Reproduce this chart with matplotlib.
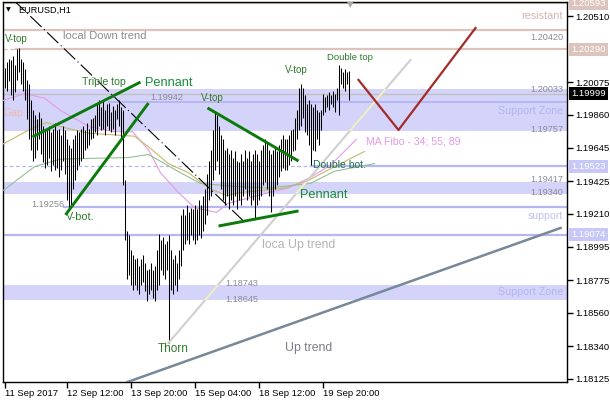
import matplotlib
matplotlib.use('Agg')
import matplotlib.pyplot as plt

plt.rcParams['font.family'] = ['Liberation Sans', 'DejaVu Sans']

# hourly bars, EURUSD H1 (high / low)
high = [1.2017, 1.2021, 1.2023, 1.2022, 1.2025, 1.2019, 1.2029, 1.2030, 1.2023, 1.2021,
        1.2016, 1.2009, 1.2006, 1.1996, 1.1989, 1.1986, 1.1983, 1.1988, 1.1984, 1.1979,
        1.1977, 1.1976, 1.1979, 1.1975, 1.1977, 1.1981, 1.1976, 1.1977, 1.1973, 1.1979,
        1.1976, 1.1970, 1.1966, 1.1964, 1.1970, 1.1973, 1.1976, 1.1975, 1.1977, 1.1979,
        1.1976, 1.1981, 1.1977, 1.1983, 1.1984, 1.1986, 1.1994, 1.1996, 1.1991, 1.1995,
        1.1989, 1.1993, 1.1994, 1.1988, 1.1992, 1.1989, 1.1993, 1.1996, 1.1991, 1.1989,
        1.1943, 1.1910, 1.1907, 1.1897, 1.1894, 1.1891, 1.1892, 1.1887, 1.1891, 1.1894,
        1.1889, 1.1884, 1.1885, 1.1889, 1.1884, 1.1887, 1.1897, 1.1908, 1.1904, 1.1906,
        1.1901, 1.1903, 1.1907, 1.1897, 1.1891, 1.1894, 1.1889, 1.1897, 1.1920, 1.1924,
        1.1920, 1.1927, 1.1922, 1.1925, 1.1924, 1.1927, 1.1924, 1.1930, 1.1927, 1.1933,
        1.1937, 1.1947, 1.1956, 1.1963, 1.1976, 1.1988, 1.1986, 1.1979, 1.1973, 1.1970,
        1.1963, 1.1964, 1.1960, 1.1963, 1.1958, 1.1962, 1.1956, 1.1955, 1.1960, 1.1956,
        1.1963, 1.1958, 1.1962, 1.1956, 1.1960, 1.1963, 1.1960, 1.1956, 1.1963, 1.1966,
        1.1970, 1.1968, 1.1963, 1.1960, 1.1963, 1.1964, 1.1962, 1.1966, 1.1970, 1.1973,
        1.1970, 1.1970, 1.1973, 1.1976, 1.1977, 1.1984, 1.1989, 1.2004, 1.2006, 1.2004,
        1.1999, 1.1993, 1.1996, 1.1993, 1.1991, 1.1993, 1.1989, 1.1988, 1.1989, 1.2000,
        1.1998, 1.1999, 1.2001, 1.1999, 1.2002, 1.2000, 1.2004, 1.2019, 1.2017, 1.2014,
        1.2016, 1.2014, 1.2015]
low = [1.2004, 1.2002, 1.2008, 1.1999, 1.1996, 1.2001, 1.2009, 1.2014, 1.2006, 1.2002,
       1.1996, 1.1983, 1.1970, 1.1963, 1.1956, 1.1958, 1.1963, 1.1970, 1.1960, 1.1955,
       1.1951, 1.1953, 1.1958, 1.1949, 1.1953, 1.1950, 1.1951, 1.1945, 1.1950, 1.1956,
       1.1947, 1.1930, 1.1925, 1.1927, 1.1937, 1.1943, 1.1950, 1.1953, 1.1956, 1.1958,
       1.1963, 1.1964, 1.1966, 1.1970, 1.1971, 1.1975, 1.1973, 1.1979, 1.1976, 1.1977,
       1.1973, 1.1979, 1.1976, 1.1975, 1.1977, 1.1973, 1.1983, 1.1979, 1.1970, 1.1940,
       1.1904, 1.1878, 1.1881, 1.1874, 1.1871, 1.1874, 1.1871, 1.1868, 1.1874, 1.1876,
       1.1870, 1.1864, 1.1868, 1.1871, 1.1866, 1.1864, 1.1871, 1.1874, 1.1884, 1.1881,
       1.1878, 1.1884, 1.1836, 1.1871, 1.1868, 1.1874, 1.1870, 1.1878, 1.1887, 1.1897,
       1.1901, 1.1904, 1.1901, 1.1907, 1.1904, 1.1901, 1.1904, 1.1907, 1.1905, 1.1910,
       1.1914, 1.1920, 1.1930, 1.1933, 1.1943, 1.1950, 1.1956, 1.1947, 1.1937, 1.1930,
       1.1927, 1.1933, 1.1924, 1.1930, 1.1927, 1.1933, 1.1924, 1.1930, 1.1927, 1.1933,
       1.1937, 1.1930, 1.1933, 1.1927, 1.1930, 1.1918, 1.1927, 1.1930, 1.1933, 1.1940,
       1.1942, 1.1937, 1.1933, 1.1922, 1.1933, 1.1937, 1.1940, 1.1945, 1.1949, 1.1951,
       1.1950, 1.1950, 1.1953, 1.1956, 1.1962, 1.1963, 1.1970, 1.1976, 1.1979, 1.1984,
       1.1975, 1.1973, 1.1966, 1.1953, 1.1963, 1.1962, 1.1970, 1.1966, 1.1976, 1.1986,
       1.1988, 1.1991, 1.1989, 1.1993, 1.1991, 1.1988, 1.1996, 1.1986, 1.2006, 1.2004,
       1.2002, 1.2006, 1.1996]
last_price = 1.19999

# moving averages 34 / 55 / 89 (bar index, price)
ma34_x = [-2, 10, 20, 28, 36, 43, 55, 64, 72, 78, 87, 95, 106, 112, 121, 132, 142, 153, 163, 176]
ma34_y = [1.1995, 1.2000, 1.1997, 1.1989, 1.1983, 1.1978, 1.1975, 1.1975, 1.1963, 1.1948,
          1.1935, 1.1925, 1.1922, 1.1928, 1.1931, 1.1935, 1.1938, 1.1945, 1.1953, 1.1970]
ma55_x = [-2, 12, 21, 32, 42, 65, 72, 82, 92, 102, 111, 118, 140, 152, 165, 180]
ma55_y = [1.1966, 1.1976, 1.1981, 1.1977, 1.1974, 1.1972, 1.1965, 1.1954, 1.1948, 1.1938,
          1.1933, 1.1935, 1.1938, 1.1943, 1.1952, 1.1962]
ma89_x = [-2, 15, 28, 62, 72, 80, 88, 98, 115, 132, 153, 165, 185]
ma89_y = [1.1935, 1.1952, 1.1957, 1.1958, 1.1960, 1.1954, 1.1948, 1.1941, 1.1939, 1.1938,
          1.1941, 1.1949, 1.1954]

# levels
resist_levels = [1.20593, 1.20420, 1.20290]
support_zones = [(1.19757, 1.20033), (1.19340, 1.19417), (1.18645, 1.18743)]
support_lines = [1.19942, 1.19523, 1.19256, 1.19074]

# drawn objects (bar index, price)
down_trend = ([4.5, 120.5], [1.20615, 1.19150])
pennant1_up = ([14, 68], [1.19715, 1.20076])
pennant1_lo = ([30.5, 72], [1.19203, 1.19938])
pennant2_up = ([101.5, 147], [1.19906, 1.19557])
pennant2_lo = ([107, 147], [1.19130, 1.19229])
local_up = ([82, 203], [1.18362, 1.20221])
up_trend = ([61.5, 278], [1.18105, 1.19117])
forecast = ([177, 197, 235.5], [1.20090, 1.19761, 1.20431])

xtick_pos = [0, 31, 63, 95, 127, 159]
xtick_lbl = ['11 Sep 2017', '12 Sep 12:00', '13 Sep 20:00', '15 Sep 04:00', '18 Sep 12:00', '19 Sep 20:00']
yticks = [1.20510, 1.20075, 1.19860, 1.19645, 1.19425, 1.19210, 1.18995, 1.18775, 1.18560, 1.18340, 1.18125]

W, H = 610, 400
fig = plt.figure(figsize=(W / 100, H / 100), dpi=100)
ax = fig.add_axes([3 / W, 18 / H, 564 / W, 380 / H])
ax.set_xlim(-0.75, 281.25)
ax.set_ylim(1.18105, 1.20602)

pink = '#dcc4bc'
band = '#d4d4fb'
blue = '#b6b6f2'

zone_patches = []
for lo_, hi_ in support_zones:
    zone_patches.append(ax.axhspan(lo_, hi_, color=band, lw=0, zorder=1))

ax.plot([-1, 5.5], [resist_levels[2]] * 2, color=pink, lw=1, ls=(0, (3, 2)), zorder=2)
ax.plot([5.5, 290], [resist_levels[2]] * 2, color=pink, lw=1.6, zorder=2)
for lvl in resist_levels[:2]:
    ax.axhline(lvl, color=pink, lw=1.6, zorder=2)

ax.plot([52, 290], [support_lines[0]] * 2, color=blue, lw=1.4, zorder=2)
ax.plot([-1, 153], [support_lines[1]] * 2, color=blue, lw=0.9, ls=(0, (3, 2)), zorder=2)
ax.plot([153, 290], [support_lines[1]] * 2, color=blue, lw=1.6, zorder=2)
ax.plot([29.5, 290], [support_lines[2]] * 2, color=blue, lw=1.6, zorder=2)
ax.axhline(support_lines[3], color=blue, lw=1.6, zorder=2)
ax.axhline(last_price, color='#c0c0c0', lw=1, zorder=2)

ax.plot(ma34_x, ma34_y, color='#e49ae4', lw=0.8, zorder=3)
ax.plot(ma55_x, ma55_y, color='#c8b86a', lw=0.8, zorder=3)
ax.plot(ma89_x, ma89_y, color='#92c092', lw=0.8, zorder=3)

bars_x = list(range(len(high)))
ax.vlines(bars_x, low, high, color='black', lw=0.75, zorder=4)

ax.plot(*up_trend, color='#778899', lw=1.8, zorder=5)
ax.plot(*local_up, color='#cfcfcf', lw=1.5, zorder=5)
for zp in zone_patches:
    ln, = ax.plot(*local_up, color='#f2eec4', lw=1.5, zorder=5)
    ln.set_clip_path(zp)
ax.plot(*down_trend, color='black', lw=0.8, ls=(0, (14, 3, 1, 3)), zorder=5)
for seg in (pennant1_up, pennant1_lo, pennant2_up, pennant2_lo):
    ax.plot(*seg, color='#0a7a0a', lw=2.1, zorder=6, solid_capstyle='butt')
ax.plot(*forecast, color='#a52a2a', lw=1.6, zorder=6)

# axes look
for s in ax.spines.values():
    s.set_color('black')
    s.set_linewidth(1)
ax.yaxis.tick_right()
ax.set_yticks(yticks)
ax.set_yticklabels([f'{t:.5f}' for t in yticks])
ax.set_xticks(xtick_pos)
ax.set_xticklabels(xtick_lbl)
for t in ax.get_xticklabels():
    t.set_ha('left')
ax.tick_params(axis='y', length=4, width=1, pad=2, labelsize=6.8, colors='black')
ax.tick_params(axis='x', length=4, width=1, pad=1, labelsize=6.8, colors='black')

# price boxes on the scale
boxes = [(resist_levels[0], pink), (resist_levels[2], pink), (last_price, 'black'),
         (support_lines[1], '#c8c8f8'), (support_lines[3], '#c8c8f8')]
for val, fc in boxes:
    ax.annotate(f'{val:.5f}', xy=(1, val), xycoords=('axes fraction', 'data'),
                xytext=(3.2, 0), textcoords='offset points', ha='left', va='center',
                fontsize=6.8, color='white', annotation_clip=False, zorder=10,
                bbox=dict(boxstyle='square,pad=0.22', fc=fc, ec='none'))


def put(x, y, s, **kw):
    kw.setdefault('va', 'center')
    fig.text(x / W, 1 - y / H, s, **kw)


gray = '#8a8a9a'
put(563, 16, 'resistant', ha='right', fontsize=7.8, color='#d2b6ae')
put(563, 37, f'{resist_levels[1]:.5f}', ha='right', fontsize=6.6, color=gray)
put(563, 90, f'{support_zones[0][1]:.5f}', ha='right', fontsize=6.6, color=gray)
put(563, 111, 'Support Zone', ha='right', fontsize=7.7, color='#b4b4f0')
put(563, 129, f'{support_zones[0][0]:.5f}', ha='right', fontsize=6.6, color=gray)
put(563, 179, f'{support_zones[1][1]:.5f}', ha='right', fontsize=6.6, color=gray)
put(563, 193, f'{support_zones[1][0]:.5f}', ha='right', fontsize=6.6, color=gray)
put(563, 216, 'support', ha='right', fontsize=7.6, color='#c0c0f0')
put(563, 292, 'Support Zone', ha='right', fontsize=7.7, color='#b4b4f0')
put(150, 97, f'{support_lines[0]:.5f}', fontsize=6.6, color=gray)
put(31, 205, f'{support_lines[2]:.5f}', fontsize=6.6, color=gray)
put(225, 283, f'{support_zones[2][1]:.5f}', fontsize=6.6, color=gray)
put(225, 299, f'{support_zones[2][0]:.5f}', fontsize=6.6, color=gray)

put(63, 36, 'local Down trend', fontsize=8, color='#8c8c8c')
put(262, 245, 'loca Up trend', fontsize=8.8, color='#b4b4b4')
put(285, 348, 'Up trend', fontsize=8.8, color='#7c7c8c')
put(366, 141, 'MA Fibo - 34; 55; 89', fontsize=7.6, color='#e49ae4')
put(3, 113, 'Gap', fontsize=7.6, color='#f0b8b0')

green = '#2f7a2a'
put(5, 39, 'V-top', fontsize=7, color=green)
put(201, 98, 'V-top', fontsize=7, color=green)
put(285, 70, 'V-top', fontsize=7, color=green)
put(82, 82, 'Triple top', fontsize=7.6, color=green)
put(327, 57, 'Double top', fontsize=6.8, color=green)
put(313, 165, 'Double bot.', fontsize=7.5, color='#1f7050')
put(66, 217, 'V-bot.', fontsize=7.8, color=green)
put(158, 349, 'Thorn', fontsize=8.5, color=green)
put(145, 83, 'Pennant', fontsize=9.2, color='#178a3a')
put(300, 195, 'Pennant', fontsize=9.2, color='#178a3a')

put(18, 10, 'EURUSD,H1', fontsize=6.6, color='black')
put(6, 10, '\u25bc', fontsize=4.5, color='black', family='DejaVu Sans')
put(347, 5, '\u25bc', fontsize=6, color='#a8a8a8', family='DejaVu Sans')

fig.savefig('out.png', dpi=100)
